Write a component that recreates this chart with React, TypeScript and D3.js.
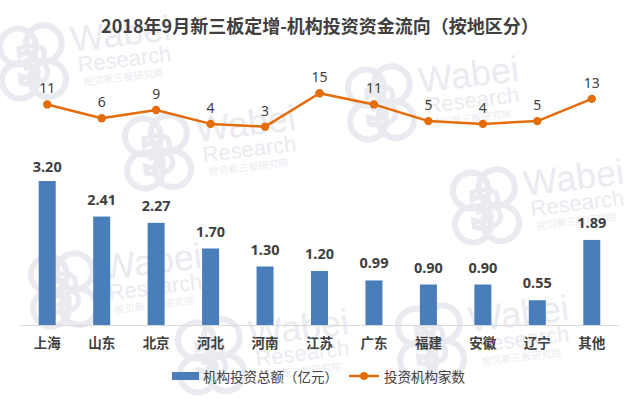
import React from "react";
import * as d3 from "d3";

const categories = ["上海", "山东", "北京", "河北", "河南", "江苏", "广东", "福建", "安徽", "辽宁", "其他"];
const amounts = [3.2, 2.41, 2.27, 1.7, 1.3, 1.2, 0.99, 0.9, 0.9, 0.55, 1.89];
const counts = [11, 6, 9, 4, 3, 15, 11, 5, 4, 5, 13];
const title = "2018年9月新三板定增-机构投资资金流向（按地区分）";
const legendBar = "机构投资总额（亿元）";
const legendLine = "投资机构家数";
const watermarks = [
  [72, 52], [197, 142], [420, 93], [525, 196], [103, 280], [470, 332], [250, 346]
];

const W = 640, H = 399;
const CJK = "'Noto Sans CJK SC', 'Noto Sans', sans-serif";
const BLUE = "#4a7ebb";
const ORANGE = "#e46c0a";
const TXT = "#404040";
const WM = "#e9ebf0";

function Watermark({ x, y }: { x: number; y: number }) {
  return (
    <g transform={`translate(${x},${y}) rotate(-7)`}>
      <g transform="translate(-45,10)" fill="none" stroke={WM} strokeWidth={6}>
        <circle cx={-8} cy={-22} r={18} />
        <circle cx={18} cy={-22} r={18} />
        <circle cx={-10} cy={12} r={18} />
        <circle cx={18} cy={14} r={18} />
      </g>
      <text x={-40} y={26} textAnchor="middle" fontFamily="'DejaVu Sans', sans-serif" fontWeight="bold" fontSize={50} fill="none" stroke={WM} strokeWidth={5}>3</text>
      <text x={0} y={0} fontFamily="'Liberation Sans', sans-serif" fontSize={36} fill={WM}>Wabei</text>
      <text x={4} y={21} fontFamily="'Liberation Sans', sans-serif" fontSize={22} fill={WM}>Research</text>
      <text x={8} y={35} fontFamily={CJK} fontSize={10} fill={WM}>挖贝新三板研究院</text>
    </g>
  );
}

export default function App() {
  const x = d3.scalePoint<string>().domain(categories).range([20, 619]).padding(0.5);
  const yBar = d3.scaleLinear().domain([0, 4]).range([325, 145]);
  const yLine = d3.scaleLinear().domain([0, 15]).range([135, 93.3]);
  const barW = 17;
  const line = d3
    .line<number>()
    .x((_, i) => x(categories[i]) as number)
    .y((d) => yLine(d));

  return (
    <svg width={W} height={H} style={{ position: "absolute", left: 0, top: 0, background: "#fff" }}>
      <rect width={W} height={H} fill="#fff" />
      {watermarks.map(([wx, wy], i) => (
        <Watermark key={i} x={wx} y={wy} />
      ))}
      <text x={320} y={33} textAnchor="middle" fontFamily={CJK} fontWeight="bold" fontSize={18} fill={TXT}>
        {title}
      </text>
      {amounts.map((v, i) => {
        const cx = x(categories[i]) as number;
        const top = yBar(v);
        return (
          <g key={i}>
            <rect x={cx - barW / 2} y={top} width={barW} height={yBar(0) - top} fill={BLUE} />
            <text x={cx} y={Math.max(top - 12, 172)} textAnchor="middle" fontFamily="'Noto Sans', sans-serif" fontWeight="bold" fontSize={14.5} fill={TXT}>
              {v.toFixed(2)}
            </text>
          </g>
        );
      })}
      <line x1={20} x2={619} y1={325.5} y2={325.5} stroke="#d9d9d9" strokeWidth={1} />
      {categories.map((c) => (
        <text key={c} x={x(c) as number} y={348} textAnchor="middle" fontFamily={CJK} fontWeight="bold" fontSize={13.5} fill={TXT}>
          {c}
        </text>
      ))}
      <path d={line(counts) || ""} fill="none" stroke={ORANGE} strokeWidth={2.5} strokeLinejoin="round" />
      {counts.map((v, i) => {
        const cx = x(categories[i]) as number;
        const cy = yLine(v);
        return (
          <g key={i}>
            <circle cx={cx} cy={cy} r={4.2} fill={ORANGE} />
            <text x={cx} y={cy - 11} textAnchor="middle" fontFamily="'Noto Sans', sans-serif" fontSize={14} fill={TXT}>
              {v}
            </text>
          </g>
        );
      })}
      <rect x={172} y={372} width={27} height={8} fill={BLUE} />
      <text x={203} y={381.5} fontFamily={CJK} fontSize={13.5} fill={TXT}>{legendBar}</text>
      <line x1={349} x2={379} y1={376} y2={376} stroke={ORANGE} strokeWidth={2.5} />
      <circle cx={364} cy={376} r={4} fill={ORANGE} />
      <text x={384} y={381.5} fontFamily={CJK} fontSize={13.5} fill={TXT}>{legendLine}</text>
    </svg>
  );
}
